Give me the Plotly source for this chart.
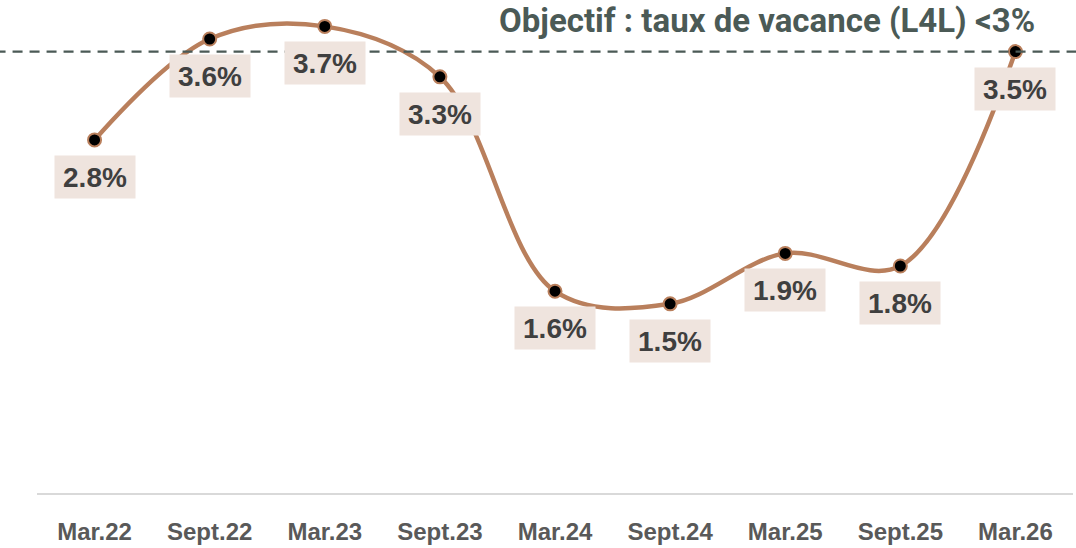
import plotly.graph_objects as go

periods = ["Mar.22", "Sept.22", "Mar.23", "Sept.23", "Mar.24",
           "Sept.24", "Mar.25", "Sept.25", "Mar.26"]
vacancy = [2.8, 3.6, 3.7, 3.3, 1.6, 1.5, 1.9, 1.8, 3.5]
target_line = 3.5
target_text = "Objectif : taux de vacance (L4L) <3%"

LINE = "#b97f5c"
BOX = "#efe4de"
TXT = "#3f3f3f"
GREEN = "#4b5a56"

fig = go.Figure()
fig.add_trace(go.Scatter(
    x=periods, y=vacancy, mode="lines+markers",
    line=dict(color=LINE, width=4.5, shape="spline", smoothing=1),
    marker=dict(size=13, color="black", line=dict(color=LINE, width=2)),
    hoverinfo="skip", showlegend=False,
))

# value labels in boxes under each point
for p, v in zip(periods, vacancy):
    fig.add_annotation(
        x=p, y=v, text="<b>%.1f%%</b>" % v, showarrow=False,
        yshift=-37, width=80, height=42, borderpad=0,
        bgcolor=BOX, font=dict(family="Liberation Sans", size=28, color=TXT),
    )

# target dashed line
fig.add_shape(type="line", xref="paper", yref="y", x0=-0.04, x1=1.01,
              y0=target_line, y1=target_line,
              line=dict(color=GREEN, width=2.2, dash="10px,7px"), layer="above")

fig.add_annotation(
    xref="paper", yref="paper", x=0.965, y=0.978, xanchor="right", yanchor="middle",
    text="<b>" + target_text + "</b>", showarrow=False,
    font=dict(family="Roboto", size=33, color=GREEN),
)

fig.update_layout(
    width=1076, height=548,
    margin=dict(l=37, r=3, t=10, b=46),
    plot_bgcolor="white", paper_bgcolor="white",
    xaxis=dict(type="category", range=[-0.5, 8.5], showgrid=False,
               showline=True, linecolor="#d9d9d9", linewidth=2,
               ticks="", ticklabelstandoff=16,
               tickfont=dict(family="Liberation Sans", size=24, color="#595959"),
               tickprefix="<b>", ticksuffix="</b>", fixedrange=True),
    yaxis=dict(range=[0, 3.83], visible=False, fixedrange=True),
)

# drop the default page margin so the figure sits at the window's corner
fig.write_html("out.html", config={"displayModeBar": False},
               post_script="document.body.style.margin='0';")
